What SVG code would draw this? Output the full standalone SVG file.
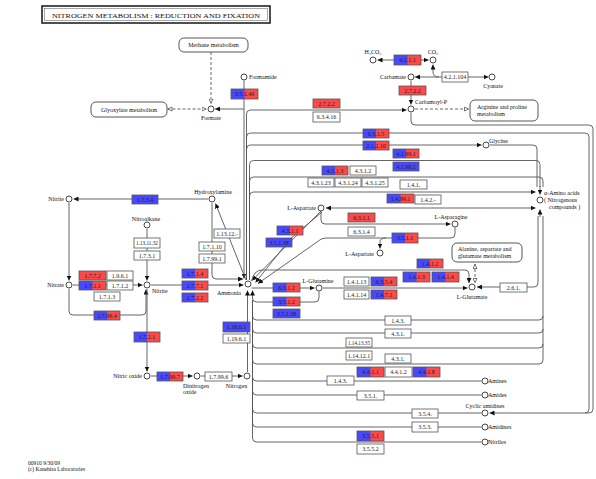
<svg xmlns="http://www.w3.org/2000/svg" width="596" height="479" viewBox="0 0 596 479">
<style>
text{font-family:"Liberation Serif","Times New Roman",serif;fill:#111}
.lb{font-size:6px}
.mid{text-anchor:middle}
.end{text-anchor:end}
.et{font-size:6px;text-anchor:middle;fill:#222}
.es{font-size:5.2px;text-anchor:middle;fill:#222}
.ln{fill:none;stroke:#555;stroke-width:0.9}
.dash{stroke-dasharray:3 2}
.bx{fill:#fff;stroke:#555;stroke-width:0.8}
.bo{fill:none;stroke:#555;stroke-width:0.8}
.B{fill:#4848ff}
.R{fill:#ff4848}
.c{fill:#fff;stroke:#333;stroke-width:0.9}
.map{fill:#fff;stroke:#444;stroke-width:0.9}
</style>
<defs>
<marker id="a" viewBox="0 0 6 6" refX="6" refY="3" markerWidth="5" markerHeight="5" orient="auto-start-reverse" markerUnits="userSpaceOnUse"><path d="M0,0 L6,3 L0,6 z" fill="#111"/></marker>
<marker id="o" viewBox="0 0 6 6" refX="6" refY="3" markerWidth="5" markerHeight="5" orient="auto-start-reverse" markerUnits="userSpaceOnUse"><path d="M0.6,0.6 L5.6,3 L0.6,5.4 z" fill="#fff" stroke="#333" stroke-width="0.8"/></marker>
</defs>
<rect width="596" height="479" fill="#fff"/>

<g id="title">
<rect x="42" y="6" width="228" height="17" fill="#fff" stroke="#222" stroke-width="1.6"/>
<rect x="44.5" y="8.5" width="223" height="12" fill="none" stroke="#555" stroke-width="0.5"/>
<text x="156" y="17.5" font-size="7" text-anchor="middle" textLength="208" lengthAdjust="spacingAndGlyphs">NITROGEN METABOLISM : REDUCTION AND FIXATION</text>
</g>

<g id="connectors" class="ln">
<path class="ln dash" d="M211,52 V103.5" marker-end="url(#o)"/>
<path class="ln dash" d="M167.5,109 H206.5" marker-start="url(#o)" marker-end="url(#o)"/>
<path class="ln" d="M244,80.5 V278.5" marker-end="url(#a)"/>
<path class="ln" d="M244,109 H215" marker-end="url(#a)"/>
<path class="ln" d="M246.5,280 V114 Q246.5,110 250.5,110 H406.5" marker-end="url(#a)"/>
<path class="ln dash" d="M415,109 H469" marker-end="url(#o)"/>
<path class="ln" d="M411,113 V121 Q411,125 415,125 H589 Q593,125 593,129 V409 Q593,413 589,413 H489.5" marker-end="url(#a)"/>
<path class="ln" d="M246.5,280 V137 Q246.5,133 250.5,133 H585 Q589,133 589,137 V409 Q589,413 585,413"/>
<path class="ln" d="M246.5,280 V149 Q246.5,145 250.5,145 H481.5" marker-end="url(#a)"/>
<path class="ln" d="M490,145 H533 Q537,145 537,149 V187"/>
<path class="ln" d="M249.5,280 V164.5 Q249.5,160.5 253.5,160.5 H536 Q540,160.5 540,164.5 V187"/>
<path class="ln" d="M249.5,280 V181 Q249.5,177 253.5,177 H539 Q543,177 543,181 V187"/>
<path class="ln" d="M540,186 V194.5" marker-end="url(#a)"/>
<path class="ln" d="M249.5,280 V196 Q249.5,192 253.5,192 H535.5" marker-end="url(#a)"/>
<path class="ln" d="M326,208 H535.5" marker-start="url(#a)" marker-end="url(#a)"/>
<path class="ln" d="M377.5,60 H428.5" marker-start="url(#a)" marker-end="url(#a)"/>
<path class="ln" d="M415,77 H488.5" marker-start="url(#a)" marker-end="url(#a)"/>
<path class="ln" d="M439,77 Q433,77 433,72 V64.5" marker-end="url(#a)"/>
<path class="ln" d="M411,81 V104.5" marker-end="url(#a)"/>
<path class="ln" d="M208,199 H73.5" marker-end="url(#a)"/>
<path class="ln" d="M69,203 V280.5" marker-end="url(#a)"/>
<path class="ln" d="M147,229 V280.5" marker-end="url(#a)"/>
<path class="ln" d="M73,285 H142.5" marker-end="url(#a)"/>
<path class="ln" d="M69,289 V311 Q69,315 73,315 H142 Q146,315 146,311 V289.5" marker-end="url(#a)"/>
<path class="ln" d="M151,285 H243.5" marker-end="url(#a)"/>
<path class="ln" d="M212,203 V275 Q212,279 216,279 H243" marker-end="url(#a)"/>
<path class="ln" d="M246,280 L215.5,203.5" marker-end="url(#a)"/>
<path class="ln" d="M147,289 V371.5" marker-end="url(#a)"/>
<path class="ln" d="M151,376 H192.5" marker-end="url(#a)"/>
<path class="ln" d="M201,376 H242.5" marker-end="url(#a)"/>
<path class="ln" d="M247.5,372 V290.5" marker-end="url(#a)"/>
<path class="ln" d="M321,211 L252,280.5" marker-end="url(#a)"/>
<path class="ln" d="M322,212 L290,239 L255.5,282.5" marker-end="url(#a)"/>
<path class="ln" d="M455,227.5 V234 Q455,238 451,238 H326 Q321,238 317,242 L258,283.5" marker-end="url(#a)"/>
<path class="ln" d="M386,238 Q380,238 380,242 V248.5" marker-end="url(#a)"/>
<path class="ln" d="M321,211.5 V220 Q321,224 325,224 H450.5" marker-end="url(#a)"/>
<path class="ln" d="M251.5,288 H314.5" marker-end="url(#a)"/>
<path class="ln" d="M319,291.5 V298 Q319,302 315,302 H256.5 Q252.5,302 252.5,298 V290.5" marker-end="url(#a)"/>
<path class="ln" d="M323,288 H467.5" marker-end="url(#a)"/>
<path class="ln" d="M251.5,281 Q254,270 262,270 H465 Q469,270 469,274 V283" marker-end="url(#a)"/>
<path class="ln dash" d="M475,264 V283" marker-start="url(#o)" marker-end="url(#o)"/>
<path class="ln" d="M477,287 H534 Q538,287 538,283 V216" marker-start="url(#a)"/>
<path class="ln" d="M540,217 V209.5" marker-end="url(#a)"/>
<path class="ln" d="M252.5,300 V316 Q252.5,320 256.5,320 H539 Q543,320 543,316"/>
<path class="ln" d="M252.5,300 V329 Q252.5,333 256.5,333 H539 Q543,333 543,329"/>
<path class="ln" d="M252.5,300 V344 Q252.5,348 256.5,348 H539 Q543,348 543,344"/>
<path class="ln" d="M252.5,300 V360 Q252.5,364 256.5,364 H539 Q543,364 543,360 V216"/>
<path class="ln" d="M252.5,300 V377 Q252.5,381 256.5,381 H481.5"/>
<path class="ln" d="M252.5,300 V391 Q252.5,395 256.5,395 H481.5"/>
<path class="ln" d="M252.5,300 V409 Q252.5,413 256.5,413 H481.5"/>
<path class="ln" d="M252.5,300 V423 Q252.5,427 256.5,427 H481.5"/>
<path class="ln" d="M252.5,300 V438 Q252.5,442 256.5,442 H481.5"/>
</g>

<g id="maps">
<g id="map-methane"><rect class="map" x="179" y="38" width="69" height="14" rx="5"/><text class="lb mid" x="213.5" y="47">Methane metabolism</text></g>
<g id="map-glyoxylate"><rect class="map" x="91" y="102" width="76" height="15" rx="5"/><text class="lb mid" x="129" y="111.5">Glyoxylate metabolism</text></g>
<g id="map-arginine"><rect class="map" x="470" y="100" width="68" height="21" rx="5"/><text class="lb" x="477" y="109">Arginine and proline</text><text class="lb" x="477" y="115.5">metabolism</text></g>
<g id="map-alanine"><rect class="map" x="452" y="243" width="70" height="19" rx="5"/><text class="lb" x="458" y="251">Alanine, aspartate and</text><text class="lb" x="458" y="257.5">glutamate metabolism</text></g>
</g>

<g id="compounds">
<g id="c-formamide"><circle class="c" cx="244" cy="77" r="3"/><text class="lb" x="249" y="79">Formamide</text></g>
<g id="c-formate"><circle class="c" cx="211" cy="109" r="3"/><text class="lb mid" x="211" y="119.5">Formate</text></g>
<g id="c-h2co3"><circle class="c" cx="373" cy="60" r="3"/><text class="lb mid" x="373" y="54">H₂CO₃</text></g>
<g id="c-co2"><circle class="c" cx="433" cy="60" r="3"/><text class="lb mid" x="433" y="54">CO₂</text></g>
<g id="c-carbamate"><circle class="c" cx="411" cy="77" r="3"/><text class="lb end" x="406" y="79">Carbamate</text></g>
<g id="c-cyanate"><circle class="c" cx="492" cy="77" r="3"/><text class="lb mid" x="493" y="87.5">Cyanate</text></g>
<g id="c-carbamoylp"><circle class="c" cx="411" cy="109" r="3"/><text class="lb" x="415" y="104">Carbamoyl-P</text></g>
<g id="c-glycine"><circle class="c" cx="486" cy="145" r="3"/><text class="lb" x="489" y="143">Glycine</text></g>
<g id="c-amino"><circle class="c" cx="540" cy="200" r="3"/><text class="lb" x="544" y="195">α-Amino acids</text><text class="lb" x="544" y="202">( Nitrogenous</text><text class="lb" x="549" y="209">compounds )</text></g>
<g id="c-hydroxylamine"><circle class="c" cx="212" cy="199" r="3"/><text class="lb mid" x="213" y="194">Hydroxylamine</text></g>
<g id="c-nitrite1"><circle class="c" cx="69" cy="199" r="3"/><text class="lb end" x="64" y="201">Nitrite</text></g>
<g id="c-nitroalkane"><circle class="c" cx="147" cy="225" r="3"/><text class="lb mid" x="146" y="221">Nitroalkane</text></g>
<g id="c-aspartate1"><circle class="c" cx="321" cy="208" r="3"/><text class="lb end" x="316" y="210">L-Aspartate</text></g>
<g id="c-asparagine"><circle class="c" cx="455" cy="224" r="3"/><text class="lb mid" x="451" y="219">L-Asparagine</text></g>
<g id="c-aspartate2"><circle class="c" cx="380" cy="253" r="3"/><text class="lb end" x="374" y="256">L-Aspartate</text></g>
<g id="c-nitrate"><circle class="c" cx="69" cy="285" r="3"/><text class="lb end" x="64" y="287">Nitrate</text></g>
<g id="c-nitrite2"><circle class="c" cx="147" cy="285" r="3"/><text class="lb" x="152" y="293">Nitrite</text></g>
<g id="c-ammonia"><circle class="c" cx="248" cy="284" r="3"/><text class="lb mid" x="229" y="295">Ammonia</text></g>
<g id="c-glutamine"><circle class="c" cx="319" cy="288" r="3"/><text class="lb mid" x="318" y="283">L-Glutamine</text></g>
<g id="c-glutamate"><circle class="c" cx="472" cy="287" r="3"/><text class="lb mid" x="472" y="299">L-Glutamate</text></g>
<g id="c-no"><circle class="c" cx="147" cy="376" r="3"/><text class="lb end" x="142" y="378">Nitric oxide</text></g>
<g id="c-n2o"><circle class="c" cx="197" cy="376" r="3"/><text class="lb" x="183" y="388">Dinitrogen</text><text class="lb" x="183" y="394">oxide</text></g>
<g id="c-nitrogen"><circle class="c" cx="247" cy="376" r="3"/><text class="lb mid" x="236.5" y="388">Nitrogen</text></g>
<g id="c-amines"><circle class="c" cx="485" cy="381" r="3"/><text class="lb" x="488" y="383">Amines</text></g>
<g id="c-amides"><circle class="c" cx="485" cy="395" r="3"/><text class="lb" x="488" y="397">Amides</text></g>
<g id="c-cyclic"><circle class="c" cx="485" cy="413" r="3"/><text class="lb mid" x="485" y="408">Cyclic amidines</text></g>
<g id="c-amidines"><circle class="c" cx="485" cy="427" r="3"/><text class="lb" x="488" y="429">Amidines</text></g>
<g id="c-nitriles"><circle class="c" cx="485" cy="442" r="3"/><text class="lb" x="488" y="444">Nitriles</text></g>
</g>

<g id="enzymes">
<g id="e1"><rect class="B" x="231" y="89" width="27" height="10"/><rect class="R" x="244.5" y="89" width="13.5" height="10"/><rect class="bo" x="231" y="89" width="27" height="10"/><text class="et" x="244.5" y="96.2">3.5.1.49</text></g>
<g id="e2"><rect class="B" x="394" y="55" width="27" height="10"/><rect class="R" x="407.5" y="55" width="13.5" height="10"/><rect class="bo" x="394" y="55" width="27" height="10"/><text class="et" x="407.5" y="62.2">4.2.1.1</text></g>
<g id="e3"><rect class="bx" x="442" y="72" width="26" height="10"/><text class="et" x="455" y="79.2">4.2.1.104</text></g>
<g id="e4"><rect class="R" x="399" y="86" width="27" height="9"/><rect class="bo" x="399" y="86" width="27" height="9"/><text class="et" x="412.5" y="92.7">2.7.2.2</text></g>
<g id="e5"><rect class="R" x="313" y="99" width="27" height="9"/><rect class="bo" x="313" y="99" width="27" height="9"/><text class="et" x="326.5" y="105.7">2.7.2.2</text></g>
<g id="e6"><rect class="bx" x="313" y="112" width="27" height="10"/><text class="et" x="326.5" y="119.2">6.3.4.16</text></g>
<g id="e7"><rect class="B" x="363" y="129" width="26" height="9"/><rect class="R" x="376" y="129" width="13" height="9"/><rect class="bo" x="363" y="129" width="26" height="9"/><text class="et" x="376" y="135.7">6.3.1.5</text></g>
<g id="e8"><rect class="B" x="363" y="141" width="26" height="9"/><rect class="R" x="376" y="141" width="13" height="9"/><rect class="bo" x="363" y="141" width="26" height="9"/><text class="et" x="376" y="147.7">2.1.2.10</text></g>
<g id="e9"><rect class="B" x="393" y="149" width="26" height="9"/><rect class="R" x="406" y="149" width="13" height="9"/><rect class="bo" x="393" y="149" width="26" height="9"/><text class="et" x="406" y="155.7">4.1.99.1</text></g>
<g id="e10"><rect class="B" x="393" y="162" width="26" height="9"/><rect class="bo" x="393" y="162" width="26" height="9"/><text class="et" x="406" y="168.7">4.1.99.2</text></g>
<g id="e11"><rect class="B" x="322" y="166" width="26" height="9"/><rect class="R" x="335" y="166" width="13" height="9"/><rect class="bo" x="322" y="166" width="26" height="9"/><text class="et" x="335" y="172.7">4.3.1.3</text></g>
<g id="e12"><rect class="bx" x="350" y="166" width="26" height="9"/><text class="et" x="363" y="172.7">4.3.1.2</text></g>
<g id="e13"><rect class="bx" x="308" y="178" width="26" height="9"/><text class="et" x="321" y="184.7">4.3.1.23</text></g>
<g id="e14"><rect class="bx" x="335" y="178" width="26" height="9"/><text class="et" x="348" y="184.7">4.3.1.24</text></g>
<g id="e15"><rect class="bx" x="362" y="178" width="26" height="9"/><text class="et" x="375" y="184.7">4.3.1.25</text></g>
<g id="e16"><rect class="bx" x="400" y="180" width="27" height="9"/><text class="et" x="413.5" y="186.7">1.4.1.</text></g>
<g id="e17"><rect class="B" x="387" y="194" width="27" height="9"/><rect class="R" x="400.5" y="194" width="13.5" height="9"/><rect class="bo" x="387" y="194" width="27" height="9"/><text class="et" x="400.5" y="200.7">1.4.99.1</text></g>
<g id="e18"><rect class="bx" x="415" y="195" width="26" height="9"/><text class="et" x="428" y="201.7">1.4.2.-</text></g>
<g id="e19"><rect class="B" x="132" y="195" width="26" height="9"/><rect class="bo" x="132" y="195" width="26" height="9"/><text class="et" x="145" y="201.7">1.7.3.4</text></g>
<g id="e20"><rect class="bx" x="134" y="238" width="26" height="10"/><text class="es" x="147" y="245">1.13.11.32</text></g>
<g id="e21"><rect class="bx" x="134" y="251" width="26" height="9"/><text class="et" x="147" y="257.7">1.7.3.1</text></g>
<g id="e22"><rect class="bx" x="214" y="229" width="26" height="9"/><text class="et" x="227" y="235.7">1.13.12.-</text></g>
<g id="e23"><rect class="bx" x="199" y="242" width="26" height="9"/><text class="et" x="212" y="248.7">1.7.1.10</text></g>
<g id="e24"><rect class="bx" x="199" y="254" width="26" height="9"/><text class="et" x="212" y="260.7">1.7.99.1</text></g>
<g id="e25"><rect class="R" x="348" y="213" width="27" height="9"/><rect class="bo" x="348" y="213" width="27" height="9"/><text class="et" x="361.5" y="219.7">6.3.1.1</text></g>
<g id="e26"><rect class="bx" x="348" y="227" width="27" height="9"/><text class="et" x="361.5" y="233.7">6.3.1.4</text></g>
<g id="e27"><rect class="B" x="277" y="226" width="26" height="9"/><rect class="R" x="290" y="226" width="13" height="9"/><rect class="bo" x="277" y="226" width="26" height="9"/><text class="et" x="290" y="232.7">4.3.1.1</text></g>
<g id="e28"><rect class="B" x="266" y="238" width="26" height="9"/><rect class="bo" x="266" y="238" width="26" height="9"/><text class="et" x="279" y="244.7">3.5.1.38</text></g>
<g id="e29"><rect class="B" x="392" y="233" width="26" height="10"/><rect class="R" x="405" y="233" width="13" height="10"/><rect class="bo" x="392" y="233" width="26" height="10"/><text class="et" x="405" y="240.2">3.5.1.1</text></g>
<g id="e30"><rect class="B" x="417" y="259" width="26" height="9"/><rect class="R" x="430" y="259" width="13" height="9"/><rect class="bo" x="417" y="259" width="26" height="9"/><text class="et" x="430" y="265.7">1.4.1.2</text></g>
<g id="e31"><rect class="B" x="403" y="272" width="27" height="10"/><rect class="R" x="416.5" y="272" width="13.5" height="10"/><rect class="bo" x="403" y="272" width="27" height="10"/><text class="et" x="416.5" y="279.2">1.4.1.3</text></g>
<g id="e32"><rect class="B" x="432" y="272" width="27" height="10"/><rect class="R" x="445.5" y="272" width="13.5" height="10"/><rect class="bo" x="432" y="272" width="27" height="10"/><text class="et" x="445.5" y="279.2">1.4.1.4</text></g>
<g id="e33"><rect class="bx" x="344" y="277" width="25" height="9"/><text class="et" x="356.5" y="283.7">1.4.1.13</text></g>
<g id="e34"><rect class="B" x="371" y="277" width="26" height="9"/><rect class="R" x="384" y="277" width="13" height="9"/><rect class="bo" x="371" y="277" width="26" height="9"/><text class="et" x="384" y="283.7">6.3.5.4</text></g>
<g id="e35"><rect class="bx" x="344" y="290" width="25" height="9"/><text class="et" x="356.5" y="296.7">1.4.1.14</text></g>
<g id="e36"><rect class="B" x="371" y="290" width="26" height="9"/><rect class="R" x="384" y="290" width="13" height="9"/><rect class="bo" x="371" y="290" width="26" height="9"/><text class="et" x="384" y="296.7">1.4.7.1</text></g>
<g id="e37"><rect class="bx" x="500" y="283" width="27" height="9"/><text class="et" x="513.5" y="289.7">2.6.1.</text></g>
<g id="e38"><rect class="R" x="79" y="271" width="27" height="9"/><rect class="bo" x="79" y="271" width="27" height="9"/><text class="et" x="92.5" y="277.7">1.7.7.2</text></g>
<g id="e39"><rect class="bx" x="107" y="271" width="26" height="9"/><text class="et" x="120" y="277.7">1.9.6.1</text></g>
<g id="e40"><rect class="B" x="79" y="281" width="27" height="9"/><rect class="R" x="92.5" y="281" width="13.5" height="9"/><rect class="bo" x="79" y="281" width="27" height="9"/><text class="et" x="92.5" y="287.7">1.7.1.1</text></g>
<g id="e41"><rect class="bx" x="107" y="281" width="26" height="9"/><text class="et" x="120" y="287.7">1.7.1.2</text></g>
<g id="e42"><rect class="bx" x="94" y="292" width="26" height="9"/><text class="et" x="107" y="298.7">1.7.1.3</text></g>
<g id="e43"><rect class="B" x="94" y="311" width="26" height="9"/><rect class="R" x="107" y="311" width="13" height="9"/><rect class="bo" x="94" y="311" width="26" height="9"/><text class="et" x="107" y="317.7">1.7.99.4</text></g>
<g id="e44"><rect class="B" x="182" y="269" width="26" height="9"/><rect class="R" x="195" y="269" width="13" height="9"/><rect class="bo" x="182" y="269" width="26" height="9"/><text class="et" x="195" y="275.7">1.7.1.4</text></g>
<g id="e45"><rect class="B" x="182" y="281" width="26" height="9"/><rect class="R" x="195" y="281" width="13" height="9"/><rect class="bo" x="182" y="281" width="26" height="9"/><text class="et" x="195" y="287.7">1.7.7.1</text></g>
<g id="e46"><rect class="B" x="182" y="293" width="26" height="9"/><rect class="R" x="195" y="293" width="13" height="9"/><rect class="bo" x="182" y="293" width="26" height="9"/><text class="et" x="195" y="299.7">1.7.2.2</text></g>
<g id="e47"><rect class="B" x="134" y="332" width="26" height="10"/><rect class="R" x="147" y="332" width="13" height="10"/><rect class="bo" x="134" y="332" width="26" height="10"/><text class="et" x="147" y="339.2">1.7.2.1</text></g>
<g id="e48"><rect class="B" x="157" y="372" width="26" height="9"/><rect class="R" x="170" y="372" width="13" height="9"/><rect class="bo" x="157" y="372" width="26" height="9"/><text class="et" x="170" y="378.7">1.7.99.7</text></g>
<g id="e49"><rect class="bx" x="205" y="372" width="27" height="9"/><text class="et" x="218.5" y="378.7">1.7.99.6</text></g>
<g id="e50"><rect class="B" x="273" y="283" width="27" height="9"/><rect class="R" x="286.5" y="283" width="13.5" height="9"/><rect class="bo" x="273" y="283" width="27" height="9"/><text class="et" x="286.5" y="289.7">6.3.1.2</text></g>
<g id="e51"><rect class="B" x="273" y="297" width="27" height="9"/><rect class="R" x="286.5" y="297" width="13.5" height="9"/><rect class="bo" x="273" y="297" width="27" height="9"/><text class="et" x="286.5" y="303.7">3.5.1.2</text></g>
<g id="e52"><rect class="B" x="273" y="309" width="27" height="9"/><rect class="bo" x="273" y="309" width="27" height="9"/><text class="et" x="286.5" y="315.7">3.5.1.38</text></g>
<g id="e53"><rect class="B" x="223" y="322" width="27" height="10"/><rect class="bo" x="223" y="322" width="27" height="10"/><text class="et" x="236.5" y="329.2">1.18.6.1</text></g>
<g id="e54"><rect class="bx" x="223" y="334" width="27" height="9"/><text class="et" x="236.5" y="340.7">1.19.6.1</text></g>
<g id="e55"><rect class="bx" x="385" y="316" width="26" height="9"/><text class="et" x="398" y="322.7">1.4.3.</text></g>
<g id="e56"><rect class="bx" x="385" y="329" width="26" height="9"/><text class="et" x="398" y="335.7">4.3.1.</text></g>
<g id="e57"><rect class="bx" x="346" y="338" width="26" height="9"/><text class="es" x="359" y="344.6">1.14.13.35</text></g>
<g id="e58"><rect class="bx" x="346" y="351" width="26" height="9"/><text class="et" x="359" y="357.7">1.14.12.1</text></g>
<g id="e59"><rect class="bx" x="385" y="354" width="26" height="9"/><text class="et" x="398" y="360.7">4.3.1.</text></g>
<g id="e60"><rect class="B" x="357" y="367" width="27" height="10"/><rect class="R" x="370.5" y="367" width="13.5" height="10"/><rect class="bo" x="357" y="367" width="27" height="10"/><text class="et" x="370.5" y="374.2">4.4.1.1</text></g>
<g id="e61"><rect class="bx" x="385" y="367" width="27" height="10"/><text class="et" x="398.5" y="374.2">4.4.1.2</text></g>
<g id="e62"><rect class="B" x="413" y="367" width="27" height="10"/><rect class="R" x="426.5" y="367" width="13.5" height="10"/><rect class="bo" x="413" y="367" width="27" height="10"/><text class="et" x="426.5" y="374.2">4.4.1.8</text></g>
<g id="e63"><rect class="bx" x="327" y="376" width="27" height="9"/><text class="et" x="340.5" y="382.7">1.4.3.</text></g>
<g id="e64"><rect class="bx" x="357" y="391" width="27" height="9"/><text class="et" x="370.5" y="397.7">3.5.1.</text></g>
<g id="e65"><rect class="bx" x="412" y="409" width="26" height="9"/><text class="et" x="425" y="415.7">3.5.4.</text></g>
<g id="e66"><rect class="bx" x="412" y="422" width="26" height="10"/><text class="et" x="425" y="429.2">3.5.3.</text></g>
<g id="e67"><rect class="B" x="357" y="431" width="27" height="10"/><rect class="R" x="370.5" y="431" width="13.5" height="10"/><rect class="bo" x="357" y="431" width="27" height="10"/><text class="et" x="370.5" y="438.2">3.5.5.1</text></g>
<g id="e68"><rect class="bx" x="357" y="444" width="27" height="10"/><text class="et" x="370.5" y="451.2">3.5.5.2</text></g>
</g>

<g id="footer">
<text font-size="5.5" x="28" y="465">00910 9/30/09</text>
<text font-size="5.5" x="28" y="471">(c) Kanehisa Laboratories</text>
</g>
</svg>
